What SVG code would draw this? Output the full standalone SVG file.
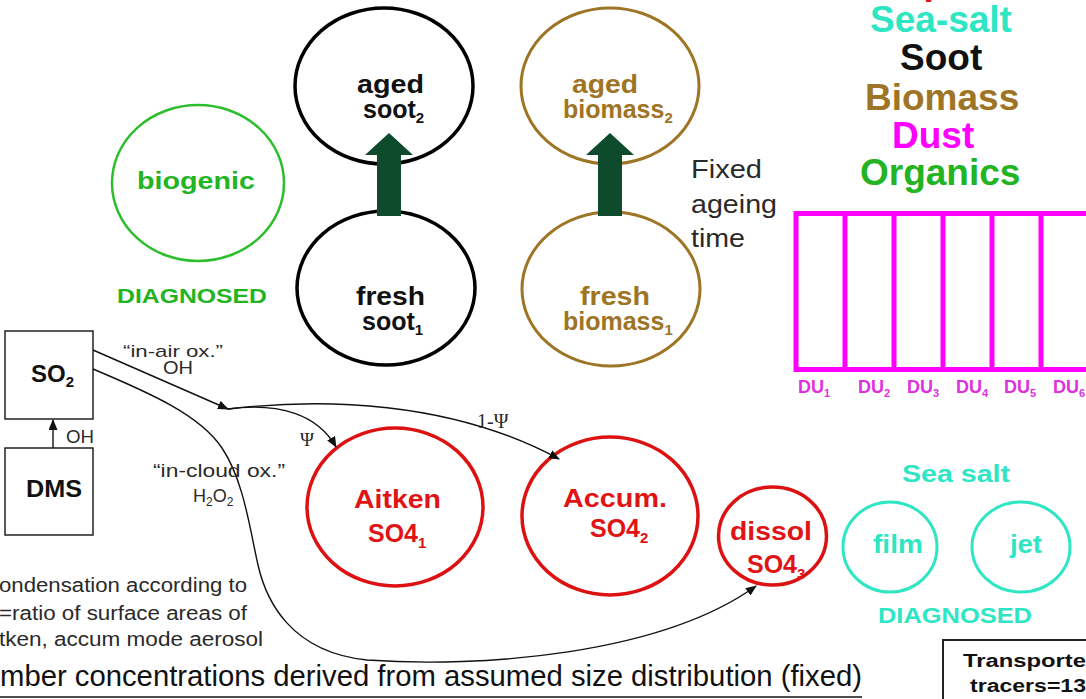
<svg xmlns="http://www.w3.org/2000/svg" width="1086" height="699" viewBox="0 0 1086 699">
<style>
text{font-family:"Liberation Sans",Arial,sans-serif}
.b{font-weight:bold}
.blk{fill:#111}
.grn{fill:#22b422}
.brn{fill:#9e7425}
.mag{fill:#f0f}
.cyn{fill:#2ee6c3}
.red{fill:#e01414}
.gry{fill:#2a2a2a}
.srf{font-family:"Liberation Serif","Times New Roman",serif}
.ell{fill:none}
.con{fill:none;stroke:#111;stroke-width:1.4}
</style>
<defs>
<marker id="ah" markerUnits="userSpaceOnUse" markerWidth="11" markerHeight="9" refX="10" refY="4.5" orient="auto">
<path d="M0,0 L11,4.5 L0,9 z" fill="#111"/>
</marker>
</defs>
<rect width="1086" height="699" fill="#fff"/>

<g id="legend">
<text class="b red" x="866" y="-6" font-size="37">Sulphate</text>
<text class="b cyn" x="870" y="32" font-size="37">Sea-salt</text>
<text class="b blk" x="900" y="70" font-size="37">Soot</text>
<text class="b brn" x="865" y="110" font-size="37">Biomass</text>
<text class="b mag" x="892" y="148" font-size="37">Dust</text>
<text class="b grn" x="860" y="185" font-size="37">Organics</text>
</g>

<g id="dust-bins">
<rect x="796" y="213.5" width="310" height="156" fill="none" stroke="#f0f" stroke-width="5"/>
<g stroke="#f0f" stroke-width="5">
<line x1="845" y1="213.5" x2="845" y2="369.5"/>
<line x1="894" y1="213.5" x2="894" y2="369.5"/>
<line x1="943" y1="213.5" x2="943" y2="369.5"/>
<line x1="992" y1="213.5" x2="992" y2="369.5"/>
<line x1="1041" y1="213.5" x2="1041" y2="369.5"/>
</g>
<g class="b" font-size="18" fill="#e030e0">
<text x="798" y="393">DU<tspan font-size="11" dy="4">1</tspan></text>
<text x="858" y="393">DU<tspan font-size="11" dy="4">2</tspan></text>
<text x="907" y="393">DU<tspan font-size="11" dy="4">3</tspan></text>
<text x="956" y="393">DU<tspan font-size="11" dy="4">4</tspan></text>
<text x="1004" y="393">DU<tspan font-size="11" dy="4">5</tspan></text>
<text x="1053" y="393">DU<tspan font-size="11" dy="4">6</tspan></text>
</g>
</g>

<g id="biogenic">
<ellipse class="ell" cx="198" cy="183" rx="86" ry="78" stroke="#2dbe2d" stroke-width="2.5"/>
<text class="b grn" x="137" y="189" font-size="24" textLength="118" lengthAdjust="spacingAndGlyphs">biogenic</text>
<text class="b grn" x="117" y="303" font-size="21" textLength="150" lengthAdjust="spacingAndGlyphs">DIAGNOSED</text>
</g>

<g id="aged-soot">
<ellipse class="ell" cx="384" cy="86" rx="89" ry="78" stroke="#000" stroke-width="3.5"/>
<text class="b blk" x="357" y="93" font-size="25" textLength="67" lengthAdjust="spacingAndGlyphs">aged</text>
<text class="b blk" x="363" y="118" font-size="25">soot<tspan font-size="15" dy="5">2</tspan></text>
</g>
<g id="fresh-soot">
<ellipse class="ell" cx="386" cy="288" rx="89" ry="77" stroke="#000" stroke-width="3.5"/>
<text class="b blk" x="356" y="305" font-size="25" textLength="69" lengthAdjust="spacingAndGlyphs">fresh</text>
<text class="b blk" x="362" y="330" font-size="25">soot<tspan font-size="15" dy="5">1</tspan></text>
</g>
<g id="aged-biomass">
<ellipse class="ell" cx="610" cy="86" rx="89" ry="78" stroke="#9e7425" stroke-width="3"/>
<text class="b brn" x="572" y="93" font-size="25" textLength="66" lengthAdjust="spacingAndGlyphs">aged</text>
<text class="b brn" x="563" y="118" font-size="25">biomass<tspan font-size="15" dy="5">2</tspan></text>
</g>
<g id="fresh-biomass">
<ellipse class="ell" cx="611" cy="289" rx="89" ry="77" stroke="#9e7425" stroke-width="3"/>
<text class="b brn" x="580" y="305" font-size="25" textLength="70" lengthAdjust="spacingAndGlyphs">fresh</text>
<text class="b brn" x="563" y="330" font-size="25">biomass<tspan font-size="15" dy="5">1</tspan></text>
</g>

<g id="ageing-arrows" fill="#0e4a2c">
<polygon points="377,216 401,216 401,155 413,155 389,133 365,155 377,155"/>
<polygon points="598,216 622,216 622,155 634,155 610,133 586,155 598,155"/>
</g>
<g id="ageing-label" class="gry" font-size="25">
<text x="691" y="178" textLength="71" lengthAdjust="spacingAndGlyphs">Fixed</text>
<text x="691" y="213" textLength="86" lengthAdjust="spacingAndGlyphs">ageing</text>
<text x="691" y="247" textLength="54" lengthAdjust="spacingAndGlyphs">time</text>
</g>

<g id="so2">
<rect x="5" y="331" width="88" height="88" fill="none" stroke="#222" stroke-width="1.5"/>
<text class="b blk" x="31" y="382" font-size="24">SO<tspan font-size="15" dy="5">2</tspan></text>
</g>
<g id="dms">
<rect x="5" y="448" width="88" height="87" fill="none" stroke="#222" stroke-width="1.5"/>
<text class="b blk" x="26" y="497" font-size="24" textLength="56" lengthAdjust="spacingAndGlyphs">DMS</text>
</g>

<g id="aitken">
<ellipse class="ell" cx="395" cy="507" rx="88" ry="79" stroke="#dd1111" stroke-width="3.5"/>
<text class="b red" x="354" y="508" font-size="25" textLength="87" lengthAdjust="spacingAndGlyphs">Aitken</text>
<text class="b red" x="368" y="542" font-size="25">SO4<tspan font-size="15" dy="6">1</tspan></text>
</g>
<g id="accum">
<ellipse class="ell" cx="610" cy="516" rx="88" ry="79" stroke="#dd1111" stroke-width="3.5"/>
<text class="b red" x="563" y="507" font-size="25" textLength="104" lengthAdjust="spacingAndGlyphs">Accum.</text>
<text class="b red" x="590" y="537" font-size="25">SO4<tspan font-size="15" dy="6">2</tspan></text>
</g>
<g id="dissol">
<ellipse class="ell" cx="772.5" cy="536" rx="54" ry="49" stroke="#dd1111" stroke-width="3.5"/>
<text class="b red" x="730" y="540" font-size="25" textLength="82" lengthAdjust="spacingAndGlyphs">dissol</text>
<text class="b red" x="747" y="573" font-size="25">SO4<tspan font-size="15" dy="6">3</tspan></text>
</g>

<g id="seasalt">
<text class="b cyn" x="902" y="482" font-size="24" textLength="108" lengthAdjust="spacingAndGlyphs">Sea salt</text>
<text class="b cyn" x="878" y="623" font-size="22" textLength="154" lengthAdjust="spacingAndGlyphs">DIAGNOSED</text>
</g>
<g id="film">
<ellipse class="ell" cx="890" cy="547" rx="47" ry="45" stroke="#2ee6c3" stroke-width="3"/>
<text class="b cyn" x="873" y="553" font-size="25" textLength="50" lengthAdjust="spacingAndGlyphs">film</text>
</g>
<g id="jet">
<ellipse class="ell" cx="1021" cy="547" rx="49" ry="45" stroke="#2ee6c3" stroke-width="3"/>
<text class="b cyn" x="1010" y="553" font-size="25" textLength="32" lengthAdjust="spacingAndGlyphs">jet</text>
</g>

<g id="connectors">
<line class="con" x1="53" y1="448" x2="53" y2="420" marker-end="url(#ah)"/>
<path class="con" d="M93,350 L228,409" marker-end="url(#ah)"/>
<path class="con" d="M228,409 C280,402 318,415 336,447" marker-end="url(#ah)"/>
<path class="con" d="M228,409 C320,398 450,400 559,459" marker-end="url(#ah)"/>
<path class="con" d="M93,369 C150,393 200,415 222,448 C244,481 250,530 258,565 C266,600 290,652 367,660 C480,668 660,655 756,586" marker-end="url(#ah)"/>
</g>

<g id="connector-labels" class="gry" font-size="18">
<text x="66" y="443" textLength="28" lengthAdjust="spacingAndGlyphs">OH</text>
<text x="123" y="357" font-size="17" textLength="100" lengthAdjust="spacingAndGlyphs">“in-air ox.”</text>
<text x="163" y="374" textLength="30" lengthAdjust="spacingAndGlyphs">OH</text>
<text x="153" y="477" textLength="132" lengthAdjust="spacingAndGlyphs">“in-cloud ox.”</text>
<text x="193" y="502">H<tspan font-size="12" dy="4">2</tspan><tspan dy="-4">O</tspan><tspan font-size="12" dy="4">2</tspan></text>
<text class="srf" x="300" y="446" font-size="19">Ψ</text>
<text class="srf" x="477" y="428" font-size="20">1-Ψ</text>
</g>

<g id="notes" class="gry" font-size="20">
<text x="-1" y="592" textLength="248" lengthAdjust="spacingAndGlyphs">ondensation according to</text>
<text x="-1" y="620" textLength="248" lengthAdjust="spacingAndGlyphs">=ratio of surface areas of</text>
<text x="-1" y="646" textLength="264" lengthAdjust="spacingAndGlyphs">tken, accum mode aerosol</text>
</g>
<g id="footer">
<text class="blk" x="0" y="686" font-size="29.5" textLength="862" lengthAdjust="spacingAndGlyphs">mber concentrations derived from assumed size distribution (fixed)</text>
<line x1="0" y1="697" x2="862" y2="697" stroke="#111" stroke-width="1.6"/>
</g>
<g id="tracers-box">
<rect x="943" y="640" width="200" height="100" fill="none" stroke="#222" stroke-width="2"/>
<text class="b blk" x="963" y="667" font-size="18" textLength="123" lengthAdjust="spacingAndGlyphs">Transporte</text>
<text class="b blk" x="970" y="692" font-size="18" textLength="116" lengthAdjust="spacingAndGlyphs">tracers=13</text>
</g>
</svg>
